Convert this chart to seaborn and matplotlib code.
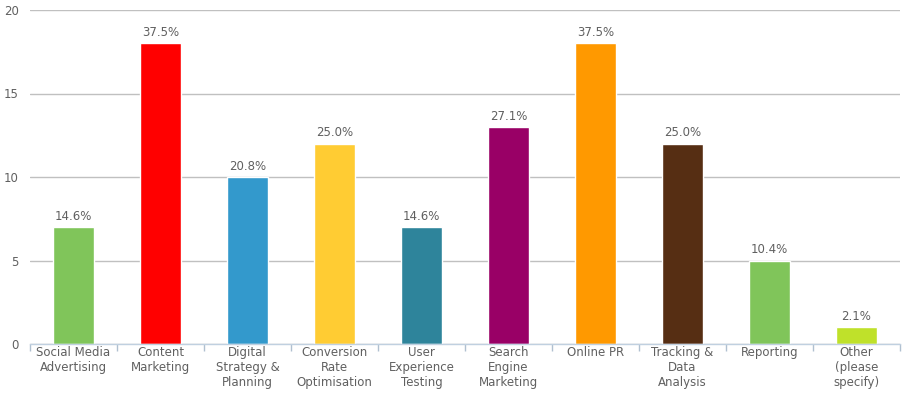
import matplotlib
matplotlib.use("Agg")
import matplotlib.pyplot as plt
import seaborn as sns
import pandas as pd
import numpy as np
from matplotlib.ticker import FixedLocator

categories = ["Social Media\nAdvertising", "Content\nMarketing", "Digital\nStrategy &\nPlanning",
              "Conversion\nRate\nOptimisation", "User\nExperience\nTesting", "Search\nEngine\nMarketing",
              "Online PR", "Tracking &\nData\nAnalysis", "Reporting", "Other\n(please\nspecify)"]
values = [7, 18, 10, 12, 7, 13, 18, 12, 5, 1]
labels = ["14.6%", "37.5%", "20.8%", "25.0%", "14.6%", "27.1%", "37.5%", "25.0%", "10.4%", "2.1%"]
colors = ["#80C55A", "#FF0000", "#3399CC", "#FFCC33", "#2E849B", "#990066", "#FF9900", "#562E13", "#80C55A", "#BFE12A"]
yticks = [0, 5, 10, 15, 20]

sns.set_style("white")
plt.rcParams['font.family'] = ['DejaVu Sans']

df = pd.DataFrame({"cat": categories, "val": values})
fig = plt.figure(figsize=(9.05, 3.99), dpi=100)
ax = fig.add_axes([30/905, 1 - 344/399, 870/905, 334/399])
sns.barplot(data=df, x="cat", y="val", hue="cat", palette=colors, legend=False,
            width=0.48, edgecolor="white", linewidth=1, saturation=1, ax=ax, zorder=3)

ax.set_xlim(-0.5, len(categories) - 0.5)
ax.set_ylim(0, 20)
ax.set_yticks(yticks)
ax.yaxis.grid(True, color="#C0C0C0", linewidth=1, zorder=0)
ax.set_axisbelow(True)
for s in ["top", "right", "left"]:
    ax.spines[s].set_visible(False)
ax.spines["bottom"].set_color("#C0D0E0")
ax.spines["bottom"].set_linewidth(1)
ax.spines["bottom"].set_zorder(4)

ax.tick_params(axis="y", length=0, labelsize=8.5, labelcolor="#606060", pad=8)
ax.tick_params(axis="x", which="major", length=0, labelsize=8.5, labelcolor="#606060", pad=1.5)
ax.xaxis.set_minor_locator(FixedLocator(np.arange(-0.5, len(categories), 1.0)))
ax.tick_params(axis="x", which="minor", bottom=True, length=5, color="#B0C0D0", width=1, direction="out")
for t in ax.get_xticklabels():
    t.set_linespacing(1.2)
ax.set_xlabel("")
ax.set_ylabel("")

for i, (v, lab) in enumerate(zip(values, labels)):
    ax.annotate(lab, (i, v), xytext=(0, 3), textcoords="offset points",
                ha="center", va="bottom", fontsize=8.5, color="#606060")

fig.savefig("out.png", dpi=100)
